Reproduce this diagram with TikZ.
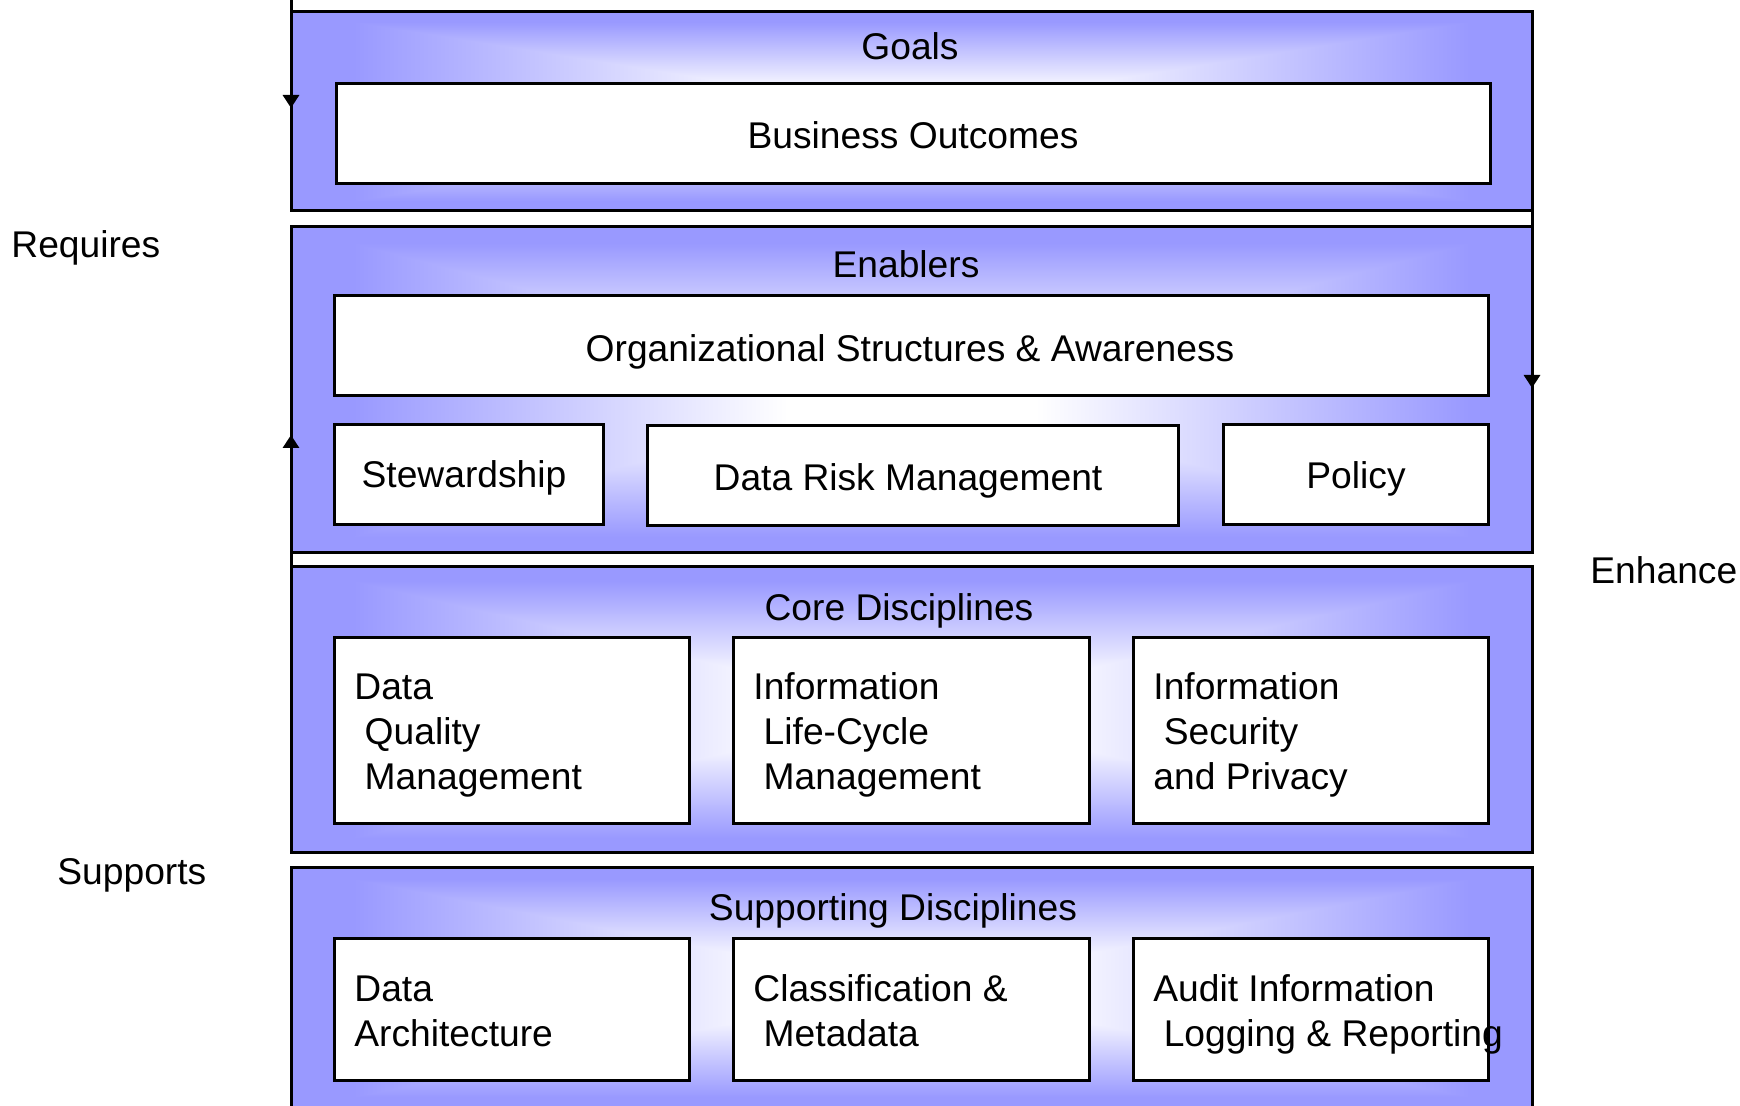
\documentclass[tikz,border=0pt]{standalone}
\usepackage{fontspec}
\setmainfont{Liberation Sans}
\usetikzlibrary{arrows.meta,fit}
\definecolor{pb}{RGB}{153,153,255}
\pgfdeclarelayer{background}
\pgfsetlayers{background,main}
\pgfdeclarehorizontalshading{hsym}{100bp}{color(0bp)=(pb); color(27.5bp)=(pb); color(45bp)=(white); color(55bp)=(white); color(72.5bp)=(pb); color(100bp)=(pb)}
\pgfdeclareverticalshading{vsym}{100bp}{color(0bp)=(pb); color(27.5bp)=(pb); color(45bp)=(white); color(55bp)=(white); color(72.5bp)=(pb); color(100bp)=(pb)}
\newcommand\layershading[1]{%
  \shade[shading=hsym] (#1.north west) rectangle (#1.south east);
  \shade[shading=vsym] (#1.north west) -- (#1.north east) -- (#1.center) -- (#1.south east) -- (#1.south west) -- (#1.center) -- cycle;}
\newcommand\lsp{\hspace*{.278em}}
\begin{document}
\begin{tikzpicture}[x=0.5pt,y=-0.5pt,
  font=\fontsize{18.6}{22.3}\selectfont,
  layer/.style={draw=black, line width=1.5pt, inner sep=0pt, outer sep=0pt},
  item/.style={draw=black, fill=white, line width=1.5pt, inner sep=0pt, outer sep=0pt},
  txt/.style={inner sep=0pt, anchor=base west, align=left},
  ttl/.style={inner sep=0pt, anchor=base},
  flow/.style={line width=1.5pt, -{Triangle[width=8pt,length=6.5pt]}}]
\useasboundingbox (0,0) rectangle (1740,1106);

% layers
\node[layer, fit={(291,12) (1532,211)}] (goals) {};
\node[layer, fit={(291,227) (1532,553)}] (enablers) {};
\node[layer, fit={(291,567) (1532,852)}] (core) {};
\node[layer, fit={(291,867) (1532,1109)}] (support) {};
\begin{pgfonlayer}{background}
  \layershading{goals}
  \layershading{enablers}
  \layershading{core}
  \layershading{support}
\end{pgfonlayer}

% titles
\node[ttl] (tgoals) at (910,60) {Goals};
\node[ttl] (tena) at (906,278) {Enablers};
\node[ttl] (tcore) at (899,620) {Core Disciplines};
\node[ttl] (tsup) at (893,920) {Supporting Disciplines};

% goals
\node[item, fit={(336,84) (1490,184)}] (bo) {};
\node[ttl] (tbo) at (913,149) {Business Outcomes};
% enablers
\node[item, fit={(334,296) (1488,396)}] (org) {};
\node[item, fit={(334,425) (603,525)}] (stew) {};
\node[item, fit={(647,426) (1178,526)}] (risk) {};
\node[item, fit={(1223,425) (1488,525)}] (policy) {};
\node[ttl] (torg) at (910,362) {Organizational Structures \& Awareness};
\node[ttl] (tstew) at (464,488) {Stewardship};
\node[ttl] (trisk) at (908,491) {Data Risk Management};
\node[ttl] (tpolicy) at (1356,489) {Policy};
% core
\node[item, fit={(334,638) (689,823)}] (dq) {};
\node[item, fit={(733,638) (1089,823)}] (ilc) {};
\node[item, fit={(1133,638) (1488,823)}] (isp) {};
\node[txt] (tdq) at (354,789) {Data\\\lsp Quality\\\lsp Management};
\node[txt] (tilc) at (753,789) {Information\\\lsp Life-Cycle\\\lsp Management};
\node[txt] (tisp) at (1153,789) {Information\\\lsp Security\\and Privacy};
% supporting
\node[item, fit={(334,938) (689,1080)}] (da) {};
\node[item, fit={(733,938) (1089,1080)}] (cm) {};
\node[item, fit={(1133,938) (1488,1080)}] (ai) {};
\node[txt] (tda) at (354,1046) {Data\\Architecture};
\node[txt] (tcm) at (753,1046) {Classification \&\\\lsp Metadata};
\node[txt] (tai) at (1153,1046) {Audit Information\\\lsp Logging \& Reporting};

% side labels
\node[txt] (req) at (11,258) {Requires};
\node[txt] (sups) at (57,884) {Supports};
\node[txt] (enh) at (1590,584) {Enhance};

% arrows
\coordinate (a1s) at (291,-4);
\coordinate (a1e) at (291,108);
\coordinate (a2s) at (291,710);
\coordinate (a2e) at (291,435);
\coordinate (a3s) at (1532,70);
\coordinate (a3e) at (1532,388);
\draw[flow] (a1s) -- (a1e);
\draw[flow] (a2s) -- (a2e);
\draw[flow] (a3s) -- (a3e);
\end{tikzpicture}
\end{document}
